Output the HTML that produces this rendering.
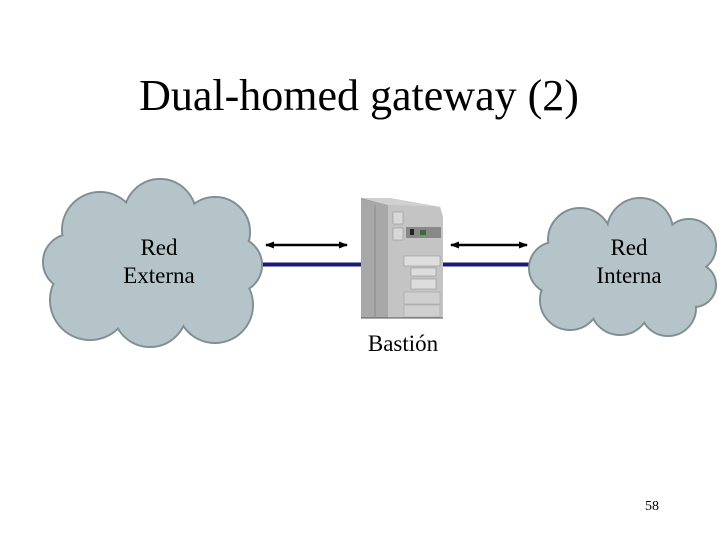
<!DOCTYPE html>
<html><head><style>
body{margin:0;width:720px;height:540px;background:#fff;overflow:hidden;font-family:"Liberation Serif",serif}
</style></head><body>
<svg width="720" height="540" xmlns="http://www.w3.org/2000/svg" style="position:absolute;left:0;top:0">
<defs>
<marker id="ah" markerWidth="9" markerHeight="9" refX="8" refY="4.5" orient="auto-start-reverse" markerUnits="userSpaceOnUse"><path d="M0,1 L9,4.5 L0,8 Z" fill="#000"/></marker>
</defs>
<text x="359" y="110" font-size="44" text-anchor="middle" font-family="Liberation Serif">Dual-homed gateway (2)</text>
<line x1="255" y1="264.5" x2="362" y2="264.5" stroke="#1a1a7a" stroke-width="4"/>
<line x1="440" y1="264.5" x2="535" y2="264.5" stroke="#1a1a7a" stroke-width="4"/>
<line x1="266" y1="245" x2="347" y2="245" stroke="#000" stroke-width="2.5" marker-start="url(#ah)" marker-end="url(#ah)"/>
<line x1="451" y1="245" x2="527" y2="245" stroke="#000" stroke-width="2.5" marker-start="url(#ah)" marker-end="url(#ah)"/>
<g stroke="#7f8f93" stroke-width="2" fill="#b4c4c8">
<circle cx="100" cy="230" r="38"/><circle cx="160" cy="215" r="36"/><circle cx="215" cy="232" r="35"/><circle cx="234" cy="265" r="28"/><circle cx="215" cy="305" r="38"/><circle cx="150" cy="310" r="37"/><circle cx="90" cy="300" r="40"/><circle cx="71" cy="262" r="28"/>
</g>
<g fill="#b4c4c8">
<circle cx="100" cy="230" r="37"/><circle cx="160" cy="215" r="35"/><circle cx="215" cy="232" r="34"/><circle cx="234" cy="265" r="27"/><circle cx="215" cy="305" r="37"/><circle cx="150" cy="310" r="36"/><circle cx="90" cy="300" r="39"/><circle cx="71" cy="262" r="27"/>
<ellipse cx="155" cy="265" rx="80" ry="55"/>
</g>
<g stroke="#7f8f93" stroke-width="2" fill="#b4c4c8">
<circle cx="580" cy="240" r="32"/><circle cx="640" cy="231" r="33"/><circle cx="689" cy="246" r="27"/><circle cx="694" cy="285" r="22"/><circle cx="668" cy="308" r="28"/><circle cx="620" cy="305" r="30"/><circle cx="570" cy="300" r="30"/><circle cx="555" cy="268" r="26"/>
</g>
<g fill="#b4c4c8">
<circle cx="580" cy="240" r="31"/><circle cx="640" cy="231" r="32"/><circle cx="689" cy="246" r="26"/><circle cx="694" cy="285" r="21"/><circle cx="668" cy="308" r="27"/><circle cx="620" cy="305" r="29"/><circle cx="570" cy="300" r="29"/><circle cx="555" cy="268" r="25"/>
<ellipse cx="625" cy="270" rx="60" ry="40"/>
</g>
<text x="159" y="255" font-size="23" text-anchor="middle">Red</text>
<text x="159" y="283" font-size="23" text-anchor="middle">Externa</text>
<text x="629" y="255" font-size="23" text-anchor="middle">Red</text>
<text x="629" y="283" font-size="23" text-anchor="middle">Interna</text>
<polygon points="361,198 389,198 440,207 443,217 443,318 361,318" fill="#9a9a9a"/>
<polygon points="361,199 388,205 388,318 361,318" fill="#a8a8a8"/>
<polygon points="388,205 440,207 443,217 443,318 388,318" fill="#c4c4c4"/>
<polygon points="361,198 389,198 440,207 388,205" fill="#d0d0d0"/>
<line x1="361" y1="318" x2="443" y2="318" stroke="#555"/>
<rect x="393" y="212" width="10" height="12" fill="#d8d8d8" stroke="#888" stroke-width="0.5"/>
<rect x="393" y="228" width="10" height="12" fill="#d8d8d8" stroke="#888" stroke-width="0.5"/>
<rect x="406" y="227" width="35" height="11" fill="#888"/>
<rect x="410" y="229" width="4" height="6" fill="#222"/>
<rect x="420" y="230" width="6" height="5" fill="#3a6a3a"/>
<rect x="404" y="256" width="36" height="10" fill="#ddd" stroke="#888" stroke-width="0.5"/>
<rect x="411" y="268" width="25" height="8" fill="#ddd" stroke="#888" stroke-width="0.5"/>
<rect x="411" y="279" width="25" height="10" fill="#ddd" stroke="#888" stroke-width="0.5"/>
<rect x="404" y="292" width="36" height="12" fill="#cfcfcf" stroke="#999" stroke-width="0.5"/>
<rect x="404" y="305" width="36" height="12" fill="#cfcfcf" stroke="#999" stroke-width="0.5"/>
<line x1="375" y1="205" x2="375" y2="318" stroke="#8a8a8a"/>
<text x="403" y="351" font-size="23" text-anchor="middle">Bastión</text>
<text x="652" y="510" font-size="14" text-anchor="middle">58</text>
</svg>
</body></html>
